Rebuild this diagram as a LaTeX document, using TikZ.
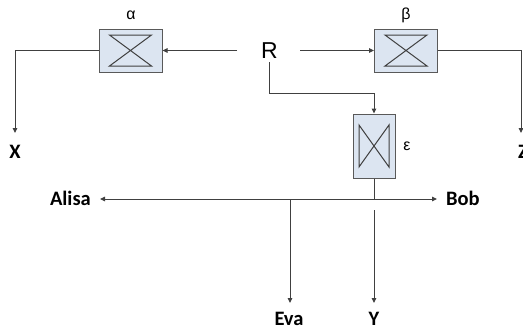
\documentclass[tikz,border=0pt]{standalone}
\usepackage{fontspec}
\setmainfont{Carlito}
\newfontfamily\arialf{Liberation Sans}
\usetikzlibrary{arrows.meta,calc}
\definecolor{linec}{HTML}{404040}
\definecolor{boxc}{HTML}{595959}
\definecolor{boxfill}{HTML}{DCE5F1}
\begin{document}
\begin{tikzpicture}[x=1pt,y=-1pt,
  line/.style={draw=linec,line width=1pt},
  tip/.tip={Triangle[length=5pt,width=4.5pt]},
  arr/.style={line,-tip},
  lbl/.style={font=\bfseries\fontsize{20.5}{20.5}\selectfont,text=black,inner sep=0pt},
  greek/.style={font=\arialf\fontsize{16}{16}\selectfont,text=black,inner sep=0pt},
  hbox/.style={draw=boxc,fill=boxfill,line width=1pt,minimum width=63pt,minimum height=43pt,inner sep=0pt,
    path picture={\draw[draw=linec,line width=1pt]
      ([shift={(10.5pt,-6pt)}]path picture bounding box.north west) --
      ([shift={(-10.5pt,-6pt)}]path picture bounding box.north east) --
      ([shift={(10.5pt,6pt)}]path picture bounding box.south west) --
      ([shift={(-10.5pt,6pt)}]path picture bounding box.south east) -- cycle;}},
  vbox/.style={draw=boxc,fill=boxfill,line width=1pt,minimum width=42pt,minimum height=64pt,inner sep=0pt,
    path picture={\draw[draw=linec,line width=1pt]
      ([shift={(6pt,-11pt)}]path picture bounding box.north west) --
      ([shift={(6pt,11pt)}]path picture bounding box.south west) --
      ([shift={(-6pt,-11pt)}]path picture bounding box.north east) --
      ([shift={(-6pt,11pt)}]path picture bounding box.south east) -- cycle;}}
]
\useasboundingbox (0,0) rectangle (523,330);
% boxes
\node[hbox] (alpha) at (130.5,50.5) {};
\node[hbox] (beta) at (406,50.5) {};
\node[vbox] (eps) at (374,146) {};
\node[greek] (la) at (131,15) {α};
\node[greek] (lb) at (406,15) {β};
\node[greek] (le) at (407,146) {ε};
% R
\node[font=\arialf\fontsize{23}{23}\selectfont,inner sep=0pt] (R) at (269.5,51) {R};
% labels
\node[lbl,anchor=base] (X) at (15,158) {X};
\node[lbl,anchor=base] (Z) at (523,158) {Z};
\node[lbl,anchor=base east] (alisa) at (91,205) {Alisa};
\node[lbl,anchor=base west] (bob) at (446,205) {Bob};
\node[lbl,anchor=base] (eva) at (289,325) {Eva};
\node[lbl,anchor=base] (Y) at (374,325) {Y};
% coordinates
\coordinate (rl) at (237,50.5);
\coordinate (rr) at (300,50.5);
\coordinate (rb) at (269,62);
\coordinate (rc) at (269,93);
\coordinate (xa) at (15,133);
\coordinate (za) at (521,133);
\coordinate (al) at (100,199);
\coordinate (bo) at (437,199);
\coordinate (ej) at (290,199);
\coordinate (ea) at (290,303);
\coordinate (ys) at (374,210);
\coordinate (ya) at (374,303);
% connectors
\draw[arr] (rl) -- (alpha.east);
\draw[arr] (alpha.west) -| (xa);
\draw[arr] (rr) -- (beta.west);
\draw[arr] (beta.east) -| (za);
\draw[arr] (rb) -- (rc) -| (eps.north);
\draw[line] (eps.south) -- (eps.south |- al);
\draw[line,tip-tip] (al) -- (bo);
\draw[arr] (ej) -- (ea);
\draw[arr] (ys) -- (ya);
\end{tikzpicture}
\end{document}
